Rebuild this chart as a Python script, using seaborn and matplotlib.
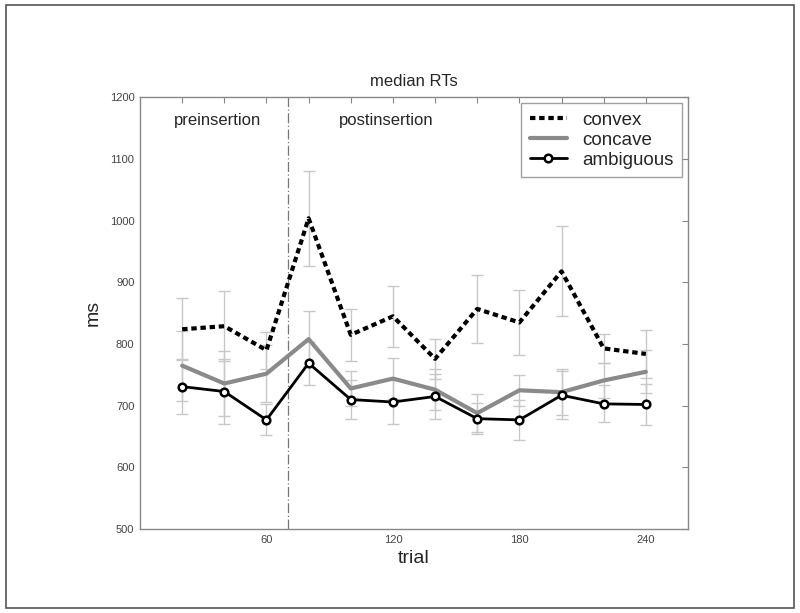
import matplotlib
matplotlib.use("Agg")
import matplotlib.pyplot as plt
import seaborn as sns
import pandas as pd
from matplotlib.patches import Rectangle

# ---------------------------------- DATOS ----------------------------------
trial = [20, 40, 60, 80, 100, 120, 140, 160, 180, 200, 220, 240]

convex = [824, 829, 790, 1004, 815, 845, 776, 857, 835, 918, 793, 784]
convex_err = [50, 57, 30, 77, 42, 49, 32, 55, 53, 73, 23, 39]

concave = [765, 736, 752, 808, 728, 744, 726, 688, 725, 722, 741, 755]
concave_err = [57, 52, 46, 46, 28, 33, 33, 31, 25, 37, 29, 35]

ambiguous = [731, 723, 677, 769, 710, 706, 715, 679, 677, 717, 703, 702]
ambiguous_err = [44, 52, 25, 35, 32, 36, 37, 25, 33, 39, 30, 34]

x_ticks = [60, 120, 180, 240]
y_ticks = [500, 600, 700, 800, 900, 1000, 1100, 1200]
insertion = 70

df = pd.DataFrame({"trial": trial, "convex": convex, "concave": concave, "ambiguous": ambiguous})

# ---------------------------------- GRAFICO ----------------------------------
sns.set_style("white")
plt.rcParams['font.family'] = ['Liberation Sans', 'DejaVu Sans']

fig = plt.figure(figsize=(8, 6.13), dpi=100)
ax = fig.add_axes([0.175, 0.137, 0.685, 0.704])

# Marco exterior de la imagen
fig.patches.append(Rectangle((0.008, 0.008), 0.984, 0.984, transform=fig.transFigure,
                             fill=False, edgecolor="#555555", linewidth=1.2))

# Barras de error (gris claro)
for y, e in [(convex, convex_err), (concave, concave_err), (ambiguous, ambiguous_err)]:
    ax.errorbar(trial, y, yerr=e, fmt="none", ecolor="#c8c8c8", elinewidth=1,
                capsize=4, capthick=1, zorder=1)

# Lineas
sns.lineplot(data=df, x="trial", y="convex", ax=ax, color="black", linewidth=3,
             linestyle=(0, (1.3, 0.9)), label="convex", zorder=3)
sns.lineplot(data=df, x="trial", y="concave", ax=ax, color="#8a8a8a", linewidth=3,
             label="concave", zorder=2)
sns.lineplot(data=df, x="trial", y="ambiguous", ax=ax, color="black", linewidth=2,
             marker="o", markersize=5.5, markerfacecolor="white", markeredgecolor="black",
             markeredgewidth=1.8, label="ambiguous", zorder=4)

# Linea de insercion
ax.axvline(insertion, color="#777777", linewidth=0.9, linestyle=(0, (8, 2, 1, 2)), zorder=1)

ax.text(37, 1162, "preinsertion", ha="center", va="center", fontsize=12)
ax.text(117, 1162, "postinsertion", ha="center", va="center", fontsize=12)

# Ejes
ax.set_xlim(0, 260)
ax.set_ylim(500, 1200)
ax.set_xticks(range(20, 260, 20))
ax.set_xticklabels([str(t) if t in x_ticks else "" for t in range(20, 260, 20)])
ax.set_yticks(y_ticks)
ax.tick_params(axis="both", direction="in", length=4, width=0.8, color="#888888",
               labelsize=8, labelcolor="#444444", top=True, right=True, pad=4)
for s in ax.spines.values():
    s.set_color("#888888")
    s.set_linewidth(1)

ax.set_title("median RTs", fontsize=12, pad=8)
ax.set_xlabel("trial", fontsize=14, labelpad=4)
ax.set_ylabel("ms", fontsize=14, labelpad=6)

leg = ax.legend(loc="upper right", fontsize=13.5, frameon=True, fancybox=False,
                handlelength=2.0, handletextpad=0.8, borderpad=0.45, labelspacing=0.15,
                borderaxespad=0, bbox_to_anchor=(0.989, 0.987))
leg.get_frame().set_edgecolor("#888888")
leg.get_frame().set_linewidth(1)

fig.savefig("out.png", dpi=100)
